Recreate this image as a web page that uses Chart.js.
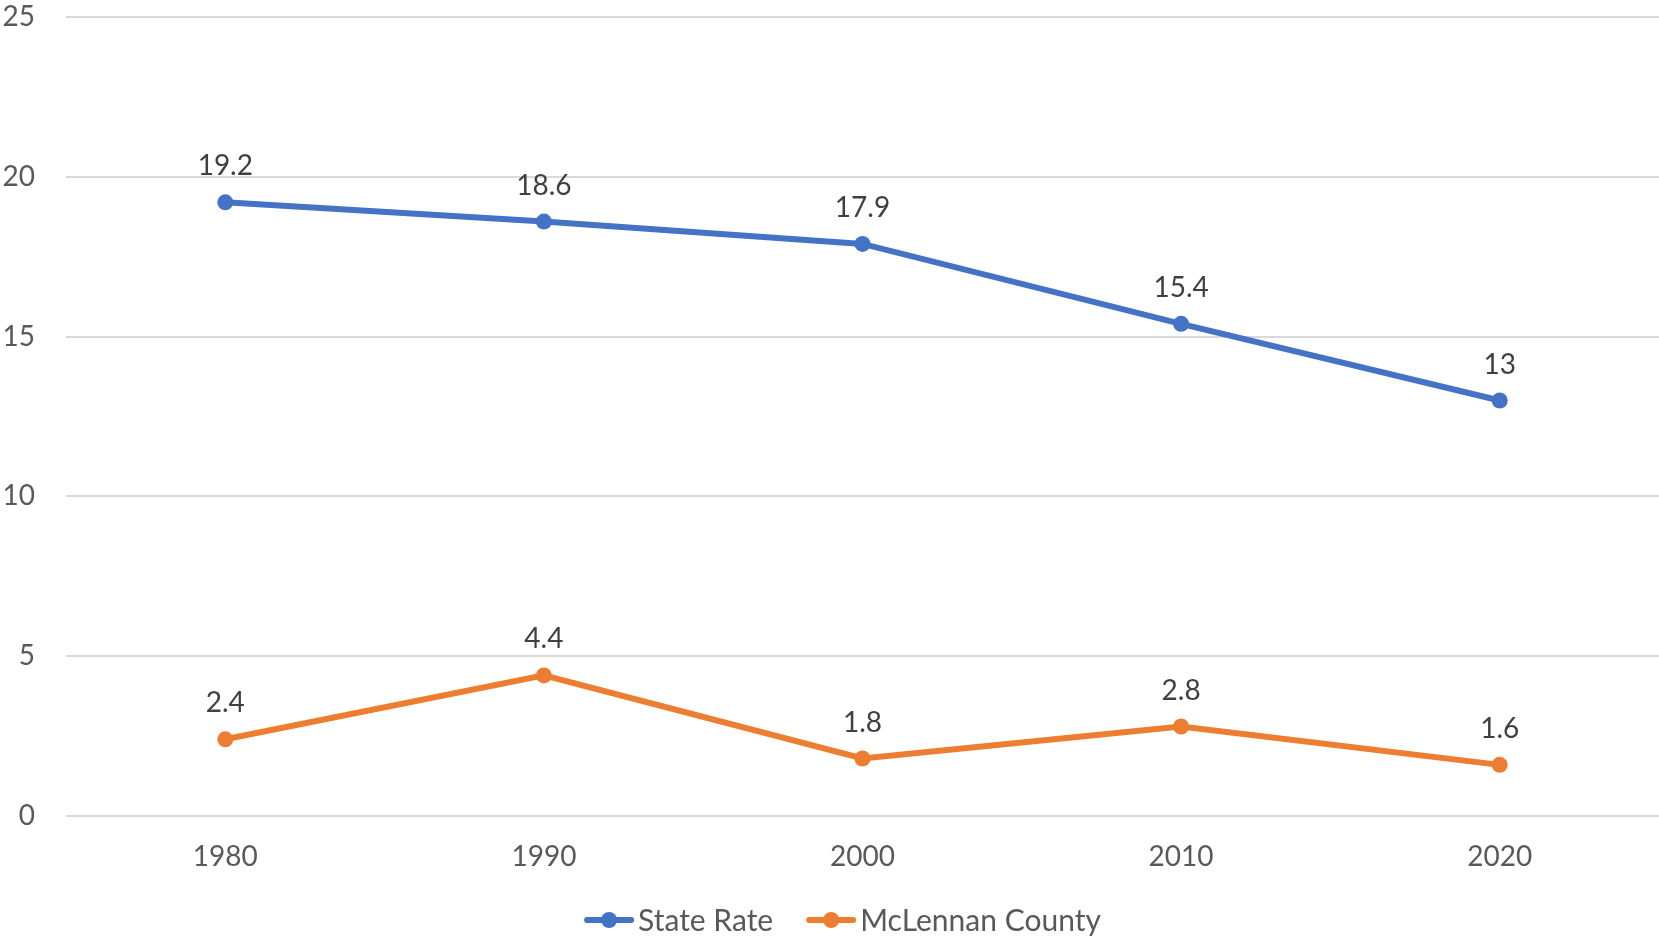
<!DOCTYPE html>
<html>
<head>
<meta charset="utf-8">
<script src="https://cdn.jsdelivr.net/npm/chart.js@4/dist/chart.umd.min.js"></script>
<style>
  html, body { margin: 0; padding: 0; background: #fff; overflow: hidden; }
  #wrap { width: 1659px; height: 937px; position: relative; }
  canvas { display: block; }
</style>
</head>
<body>
<div id="wrap"><canvas id="myChart"></canvas></div>
<script>
var years = ['1980', '1990', '2000', '2010', '2020'];
var stateRate = [19.2, 18.6, 17.9, 15.4, 13];
var mclennan = [2.4, 4.4, 1.8, 2.8, 1.6];
var yTicks = [0, 5, 10, 15, 20, 25];

var blue = '#4472C4';
var orange = '#ED7D31';
var FONT = 'Lato, "Open Sans", sans-serif';

// draws the value above each point
var valueLabels = {
  id: 'valueLabels',
  afterDatasetsDraw: function(chart){
    var ctx = chart.ctx;
    ctx.save();
    ctx.font = '28px ' + FONT;
    ctx.fillStyle = '#404040';
    ctx.textAlign = 'center';
    ctx.textBaseline = 'middle';
    chart.data.datasets.forEach(function(ds, i){
      chart.getDatasetMeta(i).data.forEach(function(pt, j){
        ctx.fillText(String(ds.data[j]), pt.x, pt.y - 36);
      });
    });
    ctx.restore();
  }
};

// excel-style legend: line with a dot, then the name
var lineLegend = {
  id: 'lineLegend',
  afterDraw: function(chart){
    var ctx = chart.ctx;
    ctx.save();
    ctx.font = '30px ' + FONT;
    ctx.textBaseline = 'middle';
    ctx.textAlign = 'left';
    var markW = 50, gap = 4, itemGap = 33;
    var items = chart.data.datasets.map(function(ds){
      return { ds: ds, w: markW + gap + ctx.measureText(ds.label).width };
    });
    var total = items.reduce(function(s, it){ return s + it.w; }, 0) + itemGap * (items.length - 1);
    var x = chart.width / 2 + 13 - total / 2;
    var y = 920;
    items.forEach(function(it){
      ctx.strokeStyle = it.ds.borderColor;
      ctx.lineWidth = 6;
      ctx.lineCap = 'round';
      ctx.beginPath();
      ctx.moveTo(x + 3, y); ctx.lineTo(x + markW - 3, y);
      ctx.stroke();
      ctx.fillStyle = it.ds.borderColor;
      ctx.beginPath();
      ctx.arc(x + markW / 2, y, 8, 0, Math.PI * 2);
      ctx.fill();
      ctx.fillStyle = '#595959';
      ctx.fillText(it.ds.label, x + markW + gap, y + 1);
      x += it.w + itemGap;
    });
    ctx.restore();
  }
};

new Chart(document.getElementById('myChart'), {
  type: 'line',
  data: {
    labels: years,
    datasets: [{
      label: 'State Rate',
      data: stateRate,
      borderColor: blue,
      backgroundColor: blue,
      borderWidth: 6,
      pointRadius: 8,
      pointBorderWidth: 0,
      pointHoverRadius: 8,
      fill: false,
      tension: 0
    }, {
      label: 'McLennan County',
      data: mclennan,
      borderColor: orange,
      backgroundColor: orange,
      borderWidth: 6,
      pointRadius: 8,
      pointBorderWidth: 0,
      pointHoverRadius: 8,
      fill: false,
      tension: 0
    }]
  },
  options: {
    responsive: true,
    maintainAspectRatio: false,
    animation: false,
    layout: { autoPadding: false, padding: { top: 17, left: 0, right: 0, bottom: 42 } },
    plugins: {
      tooltip: { enabled: false },
      legend: { display: false }
    },
    scales: {
      x: {
        offset: true,
        grid: { display: false, drawTicks: false },
        border: { display: false },
        ticks: { color: '#595959', font: { size: 28, family: FONT }, padding: 24 },
        afterFit: function(axis){
          axis.height = 79;
          axis.paddingLeft = 0;
          axis.paddingRight = 0;
        }
      },
      y: {
        min: 0,
        max: 25,
        afterBuildTicks: function(axis){
          axis.ticks = yTicks.map(function(v){ return { value: v }; });
        },
        afterFit: function(axis){
          axis.width = 66;
          axis.paddingTop = 0;
          axis.paddingBottom = 0;
        },
        grid: { color: '#D9D9D9', lineWidth: 2, drawTicks: false },
        border: { display: false },
        ticks: { color: '#595959', font: { size: 28, family: FONT }, padding: 31 }
      }
    }
  },
  plugins: [valueLabels, lineLegend]
});
</script>
</body>
</html>
